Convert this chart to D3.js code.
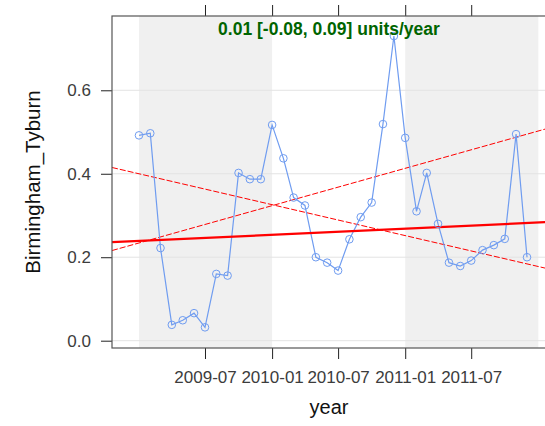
<!DOCTYPE html>
<html>
<head>
<meta charset="utf-8">
<script src="https://cdn.jsdelivr.net/npm/d3@7"></script>
<style>
  body { margin: 0; background: #fff; }
  svg { display: block; font-family: "Liberation Sans", Arial, sans-serif; }
</style>
</head>
<body>
<div id="canvas"></div>
<script>
// monthly means, Jan 2009 .. Dec 2011
const months = d3.timeMonths(new Date(2009, 0, 1), new Date(2012, 0, 1));
const values = [
  0.492, 0.497, 0.222, 0.038, 0.049, 0.066, 0.032, 0.160, 0.156, 0.402, 0.387, 0.387,
  0.517, 0.437, 0.343, 0.324, 0.200, 0.187, 0.168, 0.243, 0.296, 0.331, 0.519, 0.730,
  0.486, 0.310, 0.402, 0.280, 0.187, 0.179, 0.192, 0.217, 0.229, 0.244, 0.495, 0.200
];

// trend lines, value at start / end of the x range
const trendDates = [new Date(2008, 9, 19), new Date(2012, 1, 13)];
const trendMid = [0.236, 0.285];
const trendLow = [0.415, 0.169];
const trendHigh = [0.216, 0.513];

const shadedYears = [2009, 2011];
const xTicks = [new Date(2009, 6, 1), new Date(2010, 0, 1), new Date(2010, 6, 1), new Date(2011, 0, 1), new Date(2011, 6, 1)];
const yTicks = [0, 0.2, 0.4, 0.6];
const slopeText = "0.01 [-0.08, 0.09] units/year";

const margin = { top: 16, right: -9, bottom: 78, left: 112 },
    W = 545, H = 426,
    width = W - margin.left - margin.right,
    height = H - margin.top - margin.bottom;

const svg = d3.select("#canvas")
    .append("svg")
    .attr("width", W)
    .attr("height", H)
    .append("g")
    .attr("transform", `translate(${margin.left},${margin.top})`);

const x = d3.scaleTime()
    .domain(trendDates)
    .range([0, width]);

const y = d3.scaleLinear()
    .domain([-0.0175, 0.778])
    .range([height, 0]);

// alternate year shading
svg.selectAll("rect.band")
    .data(shadedYears)
    .join("rect")
    .attr("class", "band")
    .attr("x", d => x(new Date(d, 0, 1)))
    .attr("width", d => x(new Date(d + 1, 0, 1)) - x(new Date(d, 0, 1)))
    .attr("y", 0)
    .attr("height", height)
    .attr("fill", "#f0f0f0");

// horizontal grid
svg.selectAll("line.grid")
    .data(yTicks)
    .join("line")
    .attr("class", "grid")
    .attr("x1", 0).attr("x2", width)
    .attr("y1", d => y(d)).attr("y2", d => y(d))
    .attr("stroke", "#e3e3e3")
    .attr("stroke-width", 1);

// axes
const tickColor = "#3c3c3c";
const yAxis = svg.append("g")
    .call(d3.axisLeft(y).tickValues(yTicks).tickFormat(d3.format(".1f")).tickSize(11).tickPadding(10));
const xAxis = svg.append("g")
    .attr("transform", `translate(0,${height})`)
    .call(d3.axisBottom(x).tickValues(xTicks).tickFormat(d3.timeFormat("%Y-%m")).tickSize(11).tickPadding(12));
const xTop = svg.append("g")
    .call(d3.axisTop(x).tickValues(xTicks).tickFormat("").tickSize(11));

[yAxis, xAxis, xTop].forEach(a => {
    a.select(".domain").remove();
    a.selectAll(".tick line").attr("stroke", "#222");
    a.selectAll(".tick text")
        .attr("fill", tickColor)
        .style("font-size", "17px");
});

// trend lines
const trendLine = d3.line()
    .x((d, i) => x(trendDates[i]))
    .y(d => y(d));

svg.append("path")
    .datum(trendLow)
    .attr("fill", "none")
    .attr("stroke", "#ff0000")
    .attr("stroke-width", 1)
    .attr("stroke-dasharray", "6,2")
    .attr("d", trendLine);

svg.append("path")
    .datum(trendHigh)
    .attr("fill", "none")
    .attr("stroke", "#ff0000")
    .attr("stroke-width", 1)
    .attr("stroke-dasharray", "6,2")
    .attr("d", trendLine);

// data
const data = months.map((m, i) => ({ date: m, value: values[i] }));

svg.append("path")
    .datum(data)
    .attr("fill", "none")
    .attr("stroke", "#6f9cf0")
    .attr("stroke-width", 1.2)
    .attr("d", d3.line()
        .x(d => x(d.date))
        .y(d => y(d.value)));

svg.append("path")
    .datum(trendMid)
    .attr("fill", "none")
    .attr("stroke", "#ff0000")
    .attr("stroke-width", 2.2)
    .attr("d", trendLine);

svg.append("g")
    .selectAll("circle")
    .data(data)
    .join("circle")
    .attr("cx", d => x(d.date))
    .attr("cy", d => y(d.value))
    .attr("r", 3.8)
    .attr("fill", "none")
    .attr("stroke", "#6f9cf0")
    .attr("stroke-width", 1);

// panel border
svg.append("rect")
    .attr("x", 0).attr("y", 0)
    .attr("width", width).attr("height", height)
    .attr("fill", "none")
    .attr("stroke", "#555")
    .attr("stroke-width", 1.2);

// slope annotation
svg.append("text")
    .attr("x", width / 2 - 4)
    .attr("y", 19)
    .attr("text-anchor", "middle")
    .attr("fill", "#006400")
    .style("font-size", "17.5px")
    .style("font-weight", "bold")
    .text(slopeText);

// axis titles
svg.append("text")
    .attr("x", width / 2 - 4)
    .attr("y", height + 66)
    .attr("text-anchor", "middle")
    .attr("fill", "#111")
    .style("font-size", "20px")
    .text("year");

svg.append("text")
    .attr("transform", `translate(${-72},${height / 2}) rotate(-90)`)
    .attr("text-anchor", "middle")
    .attr("fill", "#111")
    .style("font-size", "20.5px")
    .text("Birmingham_Tyburn");
</script>
</body>
</html>
